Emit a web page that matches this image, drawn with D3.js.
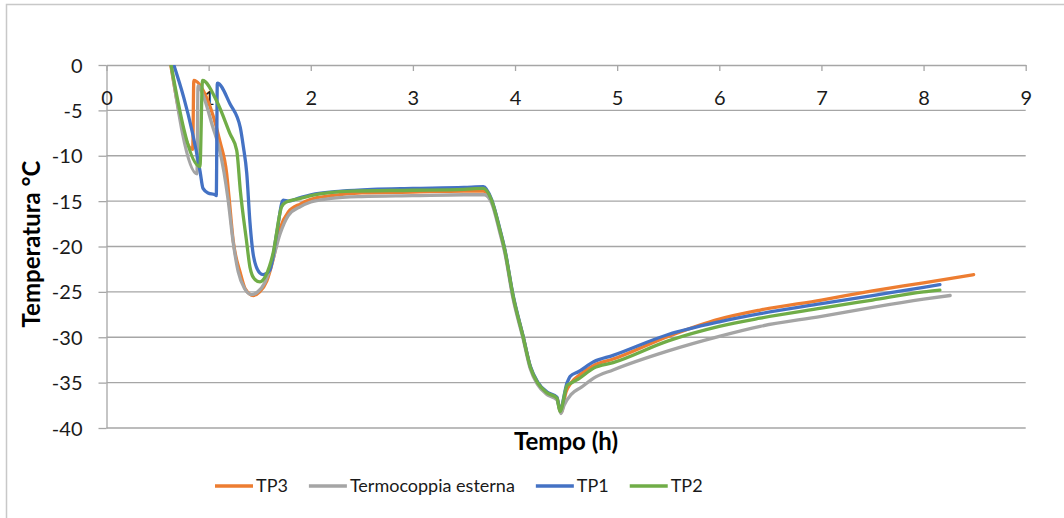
<!DOCTYPE html>
<html>
<head>
<meta charset="utf-8">
<style>
    body { margin: 0; background: #fff; }
    svg { display: block; font-family: Lato, "Open Sans", sans-serif; }
    .grid line { stroke: #a6a6a6; stroke-width: 1.3px; }
    .axis path, .axis line { stroke: #a6a6a6; stroke-width: 1.3px; }
    .axis text { fill: #1a1a1a; font-size: 20px; font-family: Lato, sans-serif; }
    .title { font-weight: bold; font-size: 24px; fill: #000; }
    .legend text { font-size: 18px; fill: #1a1a1a; }
    .series { fill: none; stroke-width: 3.3px; stroke-linejoin: round; stroke-linecap: round; }
</style>
</head>
<body>
<svg width="1064" height="518"></svg>
<script src="https://d3js.org/d3.v7.min.js"></script>
<script>

    // tick labels
    var xTicks = [0, 1, 2, 3, 4, 5, 6, 7, 8, 9],
        yTicks = [0, -5, -10, -15, -20, -25, -30, -35, -40];

    var names = ["TP3", "Termocoppia esterna", "TP1", "TP2"],
        colors = ["#ed7d31", "#a5a5a5", "#4472c4", "#70ad47"];

    // [tempo (h), temperatura °C]
    var tp3 = [
        [0.60, 2.0], [0.844, -9.3], [0.855, -1.7], [0.98, -3.6], [1.11, -8.4], [1.177, -12.0],
        [1.20, -14.6], [1.24, -19.3], [1.31, -22.9], [1.36, -24.7], [1.437, -25.4], [1.50, -25.0],
        [1.57, -23.8], [1.63, -21.5], [1.70, -18.0], [1.78, -16.2], [1.90, -15.3], [2.0, -14.8],
        [2.2, -14.4], [2.5, -14.1], [3.0, -14.0], [3.5, -13.9], [3.69, -13.9], [3.77, -15.0],
        [3.85, -18.2], [3.90, -20.5], [3.98, -25.5], [4.08, -30.0], [4.15, -33.3], [4.22, -35.0],
        [4.31, -36.1], [4.41, -36.7], [4.45, -38.3], [4.50, -36.0], [4.55, -35.0], [4.65, -34.0],
        [4.77, -33.1], [4.96, -32.4], [5.5, -29.9], [6.0, -28.0], [6.4, -27.0], [7.0, -25.9],
        [7.5, -24.9], [8.0, -24.0], [8.49, -23.1]
    ];

    var esterna = [
        [0.60, 2.5], [0.886, -12.0], [0.896, -2.3], [0.96, -3.8], [1.04, -6.8], [1.10, -9.0],
        [1.15, -11.8], [1.19, -14.8], [1.24, -19.5], [1.29, -22.8], [1.35, -24.6], [1.42, -25.3],
        [1.48, -25.0], [1.55, -24.0], [1.62, -21.8], [1.70, -18.6], [1.78, -16.6], [1.90, -15.6],
        [2.0, -15.1], [2.2, -14.7], [2.5, -14.5], [3.0, -14.4], [3.5, -14.3], [3.70, -14.3],
        [3.77, -15.2], [3.85, -18.4], [3.90, -20.7], [3.98, -25.7], [4.08, -30.2], [4.15, -33.5],
        [4.22, -35.2], [4.31, -36.3], [4.41, -36.9], [4.45, -38.4], [4.48, -37.5], [4.55, -36.3],
        [4.65, -35.5], [4.77, -34.5], [4.96, -33.6], [5.5, -31.5], [6.0, -29.9], [6.4, -28.8],
        [7.0, -27.7], [7.5, -26.7], [8.0, -25.8], [8.26, -25.4]
    ];

    var tp1 = [
        [0.60, 2.0], [0.916, -11.7], [0.945, -13.6], [0.995, -14.1], [1.063, -14.3], [1.075, -14.4],
        [1.085, -2.0], [1.21, -4.3], [1.31, -6.9], [1.34, -9.0], [1.373, -11.9], [1.405, -17.4],
        [1.44, -21.1], [1.50, -22.9], [1.535, -23.1], [1.60, -22.6], [1.667, -18.5], [1.73, -14.9],
        [1.78, -15.0], [1.90, -14.6], [2.0, -14.3], [2.3, -13.9], [2.6, -13.7], [3.0, -13.6],
        [3.5, -13.5], [3.69, -13.4], [3.77, -14.8], [3.85, -18.0], [3.90, -20.3], [3.98, -25.3],
        [4.08, -29.9], [4.15, -33.2], [4.22, -34.9], [4.31, -36.0], [4.41, -36.6], [4.44, -38.0],
        [4.51, -35.0], [4.54, -34.3], [4.62, -33.8], [4.77, -32.7], [4.96, -32.0], [5.5, -29.7],
        [6.0, -28.3], [6.4, -27.4], [7.0, -26.3], [7.5, -25.4], [8.0, -24.5], [8.16, -24.2]
    ];

    var tp2 = [
        [0.60, 2.0], [0.915, -11.2], [0.94, -1.7], [1.08, -4.0], [1.21, -7.6], [1.275, -9.4],
        [1.31, -13.8], [1.37, -19.3], [1.405, -22.3], [1.45, -23.6], [1.503, -23.9], [1.56, -23.2],
        [1.63, -20.8], [1.716, -15.6], [1.76, -15.1], [1.90, -14.7], [2.0, -14.4], [2.4, -13.9],
        [3.0, -13.8], [3.5, -13.7], [3.69, -13.6], [3.77, -14.9], [3.85, -18.1], [3.90, -20.4],
        [3.98, -25.4], [4.08, -30.0], [4.15, -33.3], [4.22, -35.0], [4.31, -36.1], [4.41, -36.7],
        [4.44, -38.2], [4.51, -35.3], [4.54, -35.1], [4.62, -34.6], [4.77, -33.4], [4.96, -32.8],
        [5.5, -30.4], [6.0, -28.8], [6.4, -27.9], [7.0, -26.8], [7.5, -25.9], [8.0, -25.0],
        [8.16, -24.8]
    ];

    var seriesData = [tp3, esterna, tp1, tp2];

    var svg = d3.select("svg"),
        plotLeft = 106.5, plotRight = 1025.7, plotTop = 65, plotBottom = 428;

    var x = d3.scaleLinear().domain([0, 9]).range([plotLeft, plotRight]),
        y = d3.scaleLinear().domain([-40, 0]).range([plotBottom, plotTop]);

    // chart border
    svg.append("rect")
        .attr("x", 6.5).attr("y", 4.5)
        .attr("width", 1080).attr("height", 540)
        .attr("fill", "none").attr("stroke", "#c8c8c8").attr("stroke-width", 1.5);

    // horizontal gridlines
    svg.append("g").attr("class", "grid")
        .selectAll("line")
        .data(yTicks.slice(1))
        .enter().append("line")
        .attr("x1", plotLeft).attr("x2", plotRight)
        .attr("y1", function (d) { return y(d); })
        .attr("y2", function (d) { return y(d); });

    // y axis (plain hyphen for the minus sign)
    var yAxis = svg.append("g").attr("class", "axis")
        .attr("transform", "translate(" + plotLeft + ",0)")
        .call(d3.axisLeft(y).tickValues(yTicks).tickFormat(function (d) { return String(d); })
            .tickSize(8).tickPadding(16).tickSizeOuter(0));
    yAxis.selectAll("text").attr("dy", "0.35em");
    yAxis.attr("font-size", null).attr("font-family", null);

    // x axis sits on the 0 line
    var xAxis = svg.append("g").attr("class", "axis")
        .attr("transform", "translate(0," + plotTop + ")")
        .call(d3.axisBottom(x).tickValues(xTicks).tickSize(6).tickPadding(20).tickSizeOuter(0));
    xAxis.attr("font-size", null).attr("font-family", null);

    // series
    svg.append("clipPath").attr("id", "plot")
        .append("rect").attr("x", plotLeft - 2).attr("y", plotTop)
        .attr("width", plotRight - plotLeft + 4).attr("height", plotBottom - plotTop + 4);

    var line = d3.line()
        .x(function (d) { return x(d[0]); })
        .y(function (d) { return y(d[1]); })
        .curve(d3.curveMonotoneX);

    svg.append("g").attr("clip-path", "url(#plot)")
        .selectAll("path")
        .data(seriesData)
        .enter().append("path")
        .attr("class", "series")
        .attr("stroke", function (d, i) { return colors[i]; })
        .attr("d", line);

    // axis titles
    svg.append("text").attr("class", "title")
        .attr("x", 566).attr("y", 450)
        .attr("text-anchor", "middle")
        .text("Tempo (h)");

    svg.append("text").attr("class", "title")
        .attr("transform", "translate(40,244) rotate(-90)")
        .attr("text-anchor", "middle")
        .text("Temperatura °C");

    // legend, laid out left to right
    var legend = svg.append("g").attr("class", "legend"),
        lx = 215, ly = 486;
    names.forEach(function (name, i) {
        legend.append("line")
            .attr("x1", lx).attr("x2", lx + 38)
            .attr("y1", ly).attr("y2", ly)
            .attr("stroke", colors[i]).attr("stroke-width", 3.5);
        var t = legend.append("text")
            .attr("x", lx + 41).attr("y", ly).attr("dy", "0.35em")
            .text(name);
        lx += 41 + t.node().getComputedTextLength() + 21;
    });

</script>
</body>
</html>
